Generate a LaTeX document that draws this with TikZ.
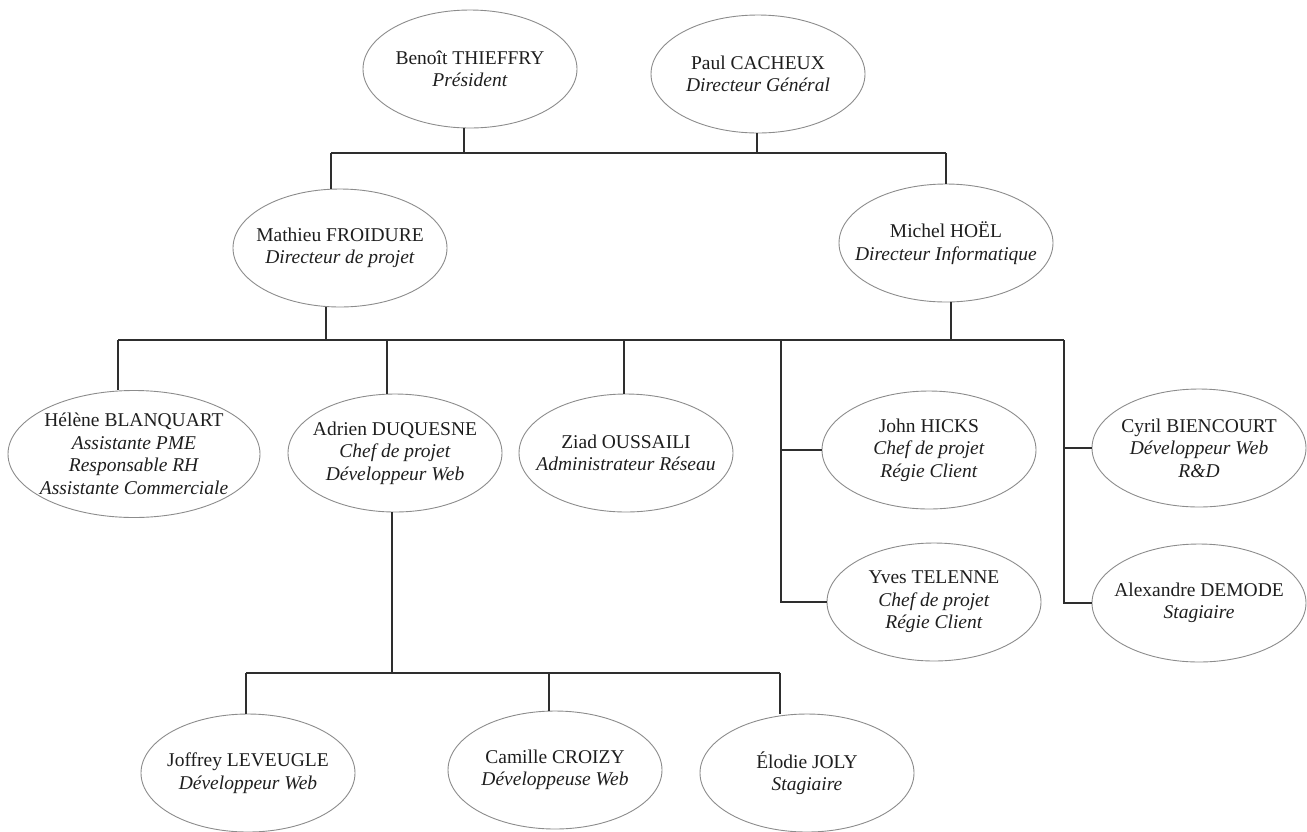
\documentclass[tikz,border=0pt]{standalone}
\usepackage{fontspec}
\setmainfont{Liberation Serif}
\usetikzlibrary{shapes.geometric}
\definecolor{Ink}{HTML}{2E2E2E}
\definecolor{Rim}{HTML}{8C8C8C}
\definecolor{Type}{HTML}{1E1E1E}
\tikzset{
  person/.style={
    ellipse, draw=Rim, line width=0.9pt, fill=white, text=Type,
    minimum width=214pt, minimum height=118pt,
    inner xsep=-30pt, inner ysep=-16pt,
    align=center, font=\fontsize{19.5}{22.5}\selectfont
  },
  widebox/.style={minimum width=252pt, minimum height=127pt},
  link/.style={draw=Ink, line width=1.3pt}
}

\begin{document}
\begin{tikzpicture}[x=1pt,y=-1pt]
  \useasboundingbox (0,0) rectangle (1307,831);
  % direction
  \node[person] (benoit) at (470,69) {Benoît THIEFFRY\\\textit{Président}};
  \node[person] (paul) at (758,74) {Paul CACHEUX\\\textit{Directeur Général}};
  \node[person] (mathieu) at (340,248) {Mathieu FROIDURE\\\textit{Directeur de projet}};
  \node[person] (michel) at (946,243) {Michel HOËL\\\textit{Directeur Informatique}};
  % equipe
  \node[person,widebox] (helene) at (134,454) {Hélène BLANQUART\\\textit{Assistante PME}\\\textit{Responsable RH}\\\textit{Assistante Commerciale}};
  \node[person] (adrien) at (395,453) {Adrien DUQUESNE\\\textit{Chef de projet}\\\textit{Développeur Web}};
  \node[person] (ziad) at (626,453) {Ziad OUSSAILI\\\textit{Administrateur Réseau}};
  \node[person] (john) at (929,450) {John HICKS\\\textit{Chef de projet}\\\textit{Régie Client}};
  \node[person] (yves) at (934,602) {Yves TELENNE\\\textit{Chef de projet}\\\textit{Régie Client}};
  \node[person] (cyril) at (1199,448) {Cyril BIENCOURT\\\textit{Développeur Web}\\\textit{R\&D}};
  \node[person] (alexandre) at (1199,603) {Alexandre DEMODE\\\textit{Stagiaire}};
  % developpeurs
  \node[person] (joffrey) at (248,773) {Joffrey LEVEUGLE\\\textit{Développeur Web}};
  \node[person] (camille) at (555,770) {Camille CROIZY\\\textit{Développeuse Web}};
  \node[person] (elodie) at (807,773) {Élodie JOLY\\\textit{Stagiaire}};

  % bus points
  \coordinate (t1) at (331,153);
  \coordinate (t2) at (464,153);
  \coordinate (t3) at (757,153);
  \coordinate (t4) at (946,153);
  \coordinate (s1) at (118,340);
  \coordinate (s2) at (326,340);
  \coordinate (s3) at (387,340);
  \coordinate (s4) at (624,340);
  \coordinate (s5) at (781,340);
  \coordinate (s6) at (951,340);
  \coordinate (s7) at (1064,340);
  \coordinate (u1) at (246,673);
  \coordinate (u2) at (392,673);
  \coordinate (u3) at (549,673);
  \coordinate (u4) at (780,673);

  \draw[link] (t1) -- (t4);
  \draw[link] (t2) -- (t2 |- benoit.south);
  \draw[link] (t3) -- (t3 |- paul.south);
  \draw[link] (t1) -- (t1 |- mathieu.north);
  \draw[link] (t4) -- (t4 |- michel.north);

  \draw[link] (s1) -- (s7);
  \draw[link] (s2) -- (s2 |- mathieu.south);
  \draw[link] (s6) -- (s6 |- michel.south);
  \draw[link] (s1) -- (s1 |- helene.north);
  \draw[link] (s3) -- (s3 |- adrien.north);
  \draw[link] (s4) -- (s4 |- ziad.north);
  \draw[link] (s5) |- (yves.west);
  \draw[link] (s5 |- john.west) -- (john.west);
  \draw[link] (s7) |- (alexandre.west);
  \draw[link] (s7 |- cyril.west) -- (cyril.west);

  \draw[link] (u1) -- (u4);
  \draw[link] (u2) -- (u2 |- adrien.south);
  \draw[link] (u1) -- (u1 |- joffrey.north);
  \draw[link] (u3) -- (u3 |- camille.north);
  \draw[link] (u4) -- (u4 |- elodie.north);
\end{tikzpicture}
\end{document}
